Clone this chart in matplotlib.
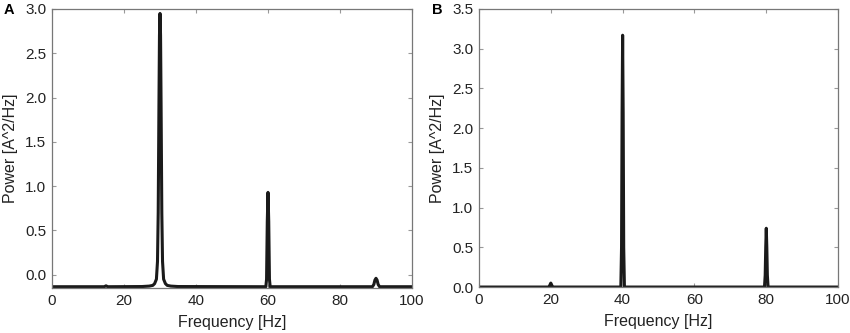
import matplotlib
matplotlib.use("Agg")
import matplotlib.pyplot as plt

plt.rcParams['font.family'] = ['Liberation Sans', 'DejaVu Sans']

# Panel A: power spectrum, peaks at 30, 60 and 90 Hz (baseline sits slightly below 0)
freq_a = [0, 14.5, 15, 15.5, 25, 27, 28, 28.5, 29, 29.3, 29.5, 29.7, 29.85, 30,
          30.15, 30.3, 30.5, 30.7, 31, 31.5, 32, 33, 35, 59.4, 59.6, 59.8, 60,
          60.2, 60.4, 60.6, 89, 89.4, 89.7, 90, 90.3, 90.6, 91, 100]
power_a = [-0.135, -0.135, -0.125, -0.135, -0.133, -0.128, -0.12, -0.10, -0.05, 0.15,
           0.7, 1.9, 2.7, 2.95, 2.7, 1.9, 0.7, 0.15, -0.05, -0.10, -0.12, -0.128, -0.133,
           -0.135, -0.05, 0.6, 0.93, 0.6, -0.05, -0.135, -0.135, -0.11, -0.06, -0.04,
           -0.06, -0.11, -0.135, -0.135]

# Panel B: power spectrum, peaks at 20, 40 and 80 Hz
freq_b = [0, 19.4, 19.7, 20, 20.3, 20.6, 39.5, 39.7, 39.85, 40, 40.15, 40.3, 40.5,
          79.5, 79.7, 79.85, 80, 80.15, 80.3, 80.5, 100]
power_b = [0.0, 0.0, 0.02, 0.05, 0.02, 0.0, 0.0, 0.5, 2.2, 3.17, 2.2, 0.5, 0.0,
           0.0, 0.15, 0.5, 0.74, 0.5, 0.15, 0.0, 0.0]

x_ticks = [0, 20, 40, 60, 80, 100]
y_ticks_a = [0.0, 0.5, 1.0, 1.5, 2.0, 2.5, 3.0]
y_ticks_b = [0.0, 0.5, 1.0, 1.5, 2.0, 2.5, 3.0, 3.5]

line_color = '#1a1a1a'
spine_color = '#777777'
text_color = '#222222'

fig = plt.figure(figsize=(8.5, 3.33), dpi=100)
ax_a = fig.add_axes([0.0612, 0.135, 0.4235, 0.838])
ax_b = fig.add_axes([0.5635, 0.138, 0.4225, 0.835])


def style_axes(ax, yticks, ylim):
    ax.set_xlim(0, 100)
    ax.set_ylim(*ylim)
    ax.set_xticks(x_ticks)
    ax.set_yticks(yticks)
    ax.set_yticklabels([f"{v:.1f}" for v in yticks])
    ax.tick_params(direction='in', length=3, width=0.8, color='#999999',
                   top=True, right=True, labelsize=11, labelcolor=text_color, pad=4)
    for s in ax.spines.values():
        s.set_color(spine_color)
        s.set_linewidth(0.9)
    ax.set_xlabel("Frequency [Hz]", fontsize=11.5, color=text_color, labelpad=5)
    ax.set_ylabel("Power [A^2/Hz]", fontsize=11.5, color=text_color, labelpad=5)


ax_a.plot(freq_a, power_a, color=line_color, lw=2.2, solid_joinstyle='round')
style_axes(ax_a, y_ticks_a, (-0.15, 3.0))

ax_b.plot(freq_b, power_b, color=line_color, lw=2.2, solid_joinstyle='round')
style_axes(ax_b, y_ticks_b, (0.0, 3.5))

fig.text(0.004, 0.97, "A", fontsize=10.5, fontweight='bold', va='center', color='black')
fig.text(0.508, 0.97, "B", fontsize=10.5, fontweight='bold', va='center', color='black')

fig.savefig("out.png", dpi=100)
